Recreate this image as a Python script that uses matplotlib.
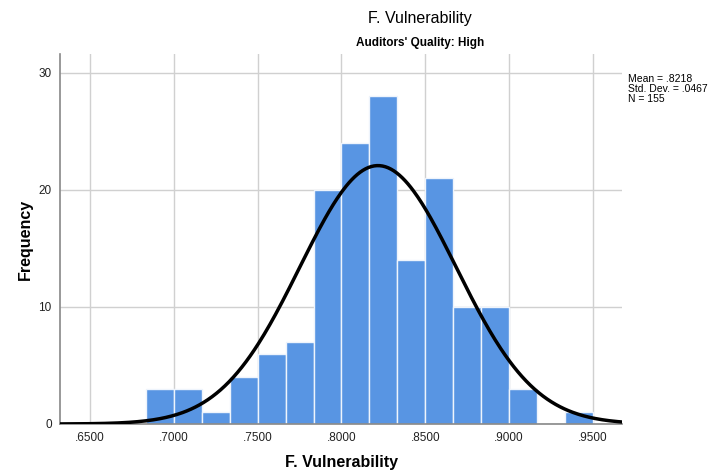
import numpy as np
import matplotlib
matplotlib.use('Agg')
import matplotlib.pyplot as plt

# histogram counts per bin (bins of width 1/60 starting at .6833)
bin_start = 0.68333
bin_width = 1.0 / 60
counts = [3, 3, 1, 4, 6, 7, 20, 24, 28, 14, 21, 10, 10, 3, 0, 1]

mean = 0.8218
std_dev = 0.0467
n = 155

x_ticks = [0.65, 0.70, 0.75, 0.80, 0.85, 0.90, 0.95]
x_tick_labels = ['.6500', '.7000', '.7500', '.8000', '.8500', '.9000', '.9500']
y_ticks = [0, 10, 20, 30]

plt.rcParams['font.family'] = ['Liberation Sans', 'DejaVu Sans']

fig = plt.figure(figsize=(7.13, 4.75), dpi=100)
ax = fig.add_axes([0.0842, 0.1074, 0.7882, 0.7789])

lefts = bin_start + bin_width * np.arange(len(counts))
ax.bar(lefts, counts, width=bin_width, align='edge', color='#5895e3',
       edgecolor='#eef4fc', linewidth=1.0, zorder=2)

# normal curve scaled to the histogram
xs = np.linspace(0.632, 0.9675, 400)
ys = n * bin_width / (std_dev * np.sqrt(2 * np.pi)) * np.exp(-0.5 * ((xs - mean) / std_dev) ** 2)
ax.plot(xs, ys, color='black', linewidth=2.5, zorder=3)

ax.set_xlim(0.632, 0.9675)
ax.set_ylim(0, 31.6)
ax.set_xticks(x_ticks)
ax.set_xticklabels(x_tick_labels, fontsize=8.5)
ax.set_yticks(y_ticks)
ax.set_yticklabels([str(v) for v in y_ticks], fontsize=8.5)
ax.tick_params(length=0, pad=6, colors='#222222')

ax.grid(True, color='#d0d0d0', linewidth=1.0, zorder=0)
ax.set_axisbelow(True)
for side in ['top', 'right']:
    ax.spines[side].set_visible(False)
for side in ['left', 'bottom']:
    ax.spines[side].set_color('#888888')
    ax.spines[side].set_linewidth(1.2)

ax.set_xlabel('F. Vulnerability', fontsize=11.5, fontweight='bold', labelpad=8)
ax.set_ylabel('Frequency', fontsize=11.5, fontweight='bold', labelpad=4)

fig.text(0.589, 0.962, 'F. Vulnerability', ha='center', va='center', fontsize=11.5)
fig.text(0.589, 0.909, "Auditors' Quality: High", ha='center', va='center',
         fontsize=8.5, fontweight='bold')

fig.text(0.881, 0.844, 'Mean = .8218\nStd. Dev. = .0467\nN = 155',
         ha='left', va='top', fontsize=7.5, linespacing=1.0)

fig.savefig('out.png', dpi=100, facecolor='white')
